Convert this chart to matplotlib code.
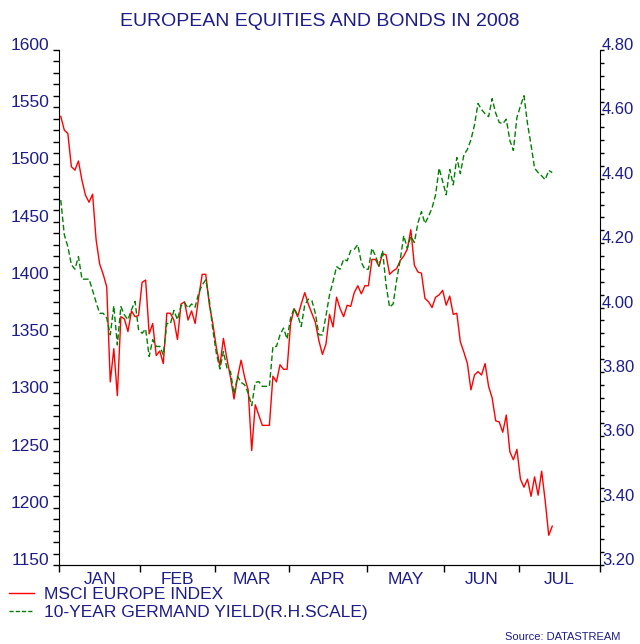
import numpy as np
import pandas as pd
import matplotlib
matplotlib.use("Agg")
import matplotlib.pyplot as plt
from matplotlib.lines import Line2D
from matplotlib.transforms import ScaledTranslation

plt.rcParams['font.family'] = ['Liberation Sans', 'DejaVu Sans']

NAVY = '#1c1c8a'

# daily (weekday) closes, 2 Jan .. 14 Jul 2008
msci = [1542, 1530, 1527, 1498, 1495, 1503, 1486, 1473, 1467, 1474,
        1434, 1413, 1404, 1393, 1310, 1339, 1298, 1367, 1365, 1354,
        1372, 1367, 1368, 1397, 1399, 1352, 1361, 1333, 1337, 1326,
        1370, 1370, 1364, 1347, 1378, 1380, 1364, 1372, 1361, 1384,
        1404, 1404, 1378, 1361, 1340, 1324, 1348, 1330, 1314, 1295,
        1314, 1329, 1314, 1303, 1250, 1290, 1281, 1272, 1272, 1272,
        1315, 1310, 1325, 1321, 1321, 1361, 1374, 1367, 1378, 1388,
        1378, 1370, 1362, 1346, 1334, 1343, 1369, 1358, 1384, 1374,
        1367, 1377, 1376, 1388, 1394, 1387, 1394, 1394, 1417, 1417,
        1411, 1422, 1421, 1404, 1407, 1409, 1416, 1420, 1426, 1443,
        1412, 1406, 1405, 1383, 1380, 1375, 1384, 1386, 1390, 1377,
        1385, 1369, 1370, 1345, 1336, 1326, 1303, 1316, 1319, 1316,
        1326, 1306, 1296, 1276, 1275, 1266, 1281, 1249, 1242, 1251,
        1225, 1218, 1225, 1210, 1227, 1211, 1232, 1206, 1176, 1184]

bund = [4.334, 4.226, 4.189, 4.133, 4.119, 4.158, 4.088, 4.088, 4.088, 4.053,
        4.016, 3.982, 3.982, 3.967, 3.915, 4.005, 3.884, 4.003, 3.977, 3.962,
        3.993, 4.019, 3.931, 3.920, 3.933, 3.848, 3.900, 3.879, 3.879, 3.853,
        3.951, 3.949, 3.991, 3.962, 4.005, 4.015, 3.998, 4.011, 4.001, 4.045,
        4.070, 4.086, 4.024, 3.931, 3.858, 3.809, 3.863, 3.812, 3.801, 3.731,
        3.786, 3.767, 3.760, 3.734, 3.695, 3.767, 3.770, 3.755, 3.755, 3.755,
        3.879, 3.879, 3.915, 3.936, 3.902, 3.967, 3.998, 3.976, 3.941, 4.008,
        4.026, 4.022, 3.982, 3.915, 3.915, 3.974, 4.039, 4.081, 4.127, 4.119,
        4.150, 4.145, 4.177, 4.181, 4.195, 4.140, 4.119, 4.119, 4.184, 4.161,
        4.129, 4.177, 4.070, 4.001, 4.011, 4.086, 4.148, 4.223, 4.184, 4.221,
        4.202, 4.262, 4.298, 4.261, 4.283, 4.309, 4.350, 4.433, 4.391, 4.350,
        4.429, 4.381, 4.466, 4.416, 4.474, 4.491, 4.521, 4.567, 4.634, 4.615,
        4.602, 4.593, 4.649, 4.604, 4.575, 4.571, 4.585, 4.519, 4.488, 4.590,
        4.626, 4.658, 4.571, 4.505, 4.433, 4.419, 4.409, 4.397, 4.426, 4.419]

months = ['JAN', 'FEB', 'MAR', 'APR', 'MAY', 'JUN', 'JUL']

# weekday axis, Jan 1 .. Aug 1
axis_days = pd.bdate_range('2008-01-01', '2008-08-01')
data_days = pd.bdate_range('2008-01-01', periods=len(msci))
xpos = axis_days.searchsorted(data_days) + 0.5
month_start = [i for i in range(len(axis_days))
               if i == 0 or axis_days[i].month != axis_days[i - 1].month]
bounds = np.array(month_start)
mids = (bounds[:-1] + bounds[1:]) / 2

fig = plt.figure(figsize=(6.4, 6.44), dpi=100)
ax = fig.add_axes([59 / 640, 1 - 565 / 644, 541 / 640, 515 / 644])
ax2 = ax.twinx()

ax.plot(xpos, msci, color='#ff0000', lw=1.0)
ax2.plot(xpos, bund, color='#008000', lw=1.0, dashes=(4, 2))

ax.set_xlim(0, len(axis_days) - 1)
ax.set_ylim(1150, 1600)
ax2.set_ylim(3.2, 4.8)

ax.set_yticks(np.arange(1150, 1601, 50))
ax.set_yticks(np.arange(1150, 1601, 10), minor=True)
ax2.set_yticks(np.arange(3.2, 4.81, 0.2))
ax2.set_yticklabels([f'{v:.2f}' for v in np.arange(3.2, 4.81, 0.2)])
ax2.set_yticks(np.arange(3.2, 4.81, 0.04), minor=True)

ax.set_xticks(bounds)
ax.set_xticklabels([])
ax.set_xticks(mids, minor=True)
ax.set_xticklabels(months, minor=True)
ax.tick_params(axis='x', which='major', direction='out', length=5, width=1)
ax.tick_params(axis='x', which='minor', length=0, pad=5,
               labelsize=12.5, labelcolor=NAVY)

for a in (ax, ax2):
    a.tick_params(axis='y', which='both', direction='out', length=4, width=1,
                  labelsize=12.5, labelcolor=NAVY, pad=3)
    a.spines['top'].set_visible(False)
ax.spines['right'].set_visible(False)
ax2.spines['left'].set_visible(False)
ax2.tick_params(axis='y', which='both', length=3, labelsize=12, pad=-1.5)

# labels sit slightly above their ticks
shift = ScaledTranslation(0, 6 / 100, fig.dpi_scale_trans)
for lab in ax.get_yticklabels() + ax2.get_yticklabels():
    lab.set_transform(lab.get_transform() + shift)

fig.text(0.5, 1 - 21 / 644, 'EUROPEAN EQUITIES AND BONDS IN 2008',
         ha='center', va='center', fontsize=14, color=NAVY)

handles = [Line2D([], [], color='#ff0000', lw=1.0),
           Line2D([], [], color='#008000', lw=1.0, dashes=(3, 1.5))]
fig.legend(handles, ['MSCI EUROPE INDEX', '10-YEAR GERMAND YIELD(R.H.SCALE)'],
           loc='upper left', bbox_to_anchor=(6 / 640, 1 - 583 / 644), frameon=False,
           fontsize=12.5, labelcolor=NAVY, handlelength=1.4, handletextpad=0.6,
           labelspacing=0.2, borderpad=0.2, borderaxespad=0)

fig.text(620 / 640, 1 - 637 / 644, 'Source: DATASTREAM', ha='right',
         va='center', fontsize=8, color=NAVY)

fig.savefig('out.png', dpi=100)
